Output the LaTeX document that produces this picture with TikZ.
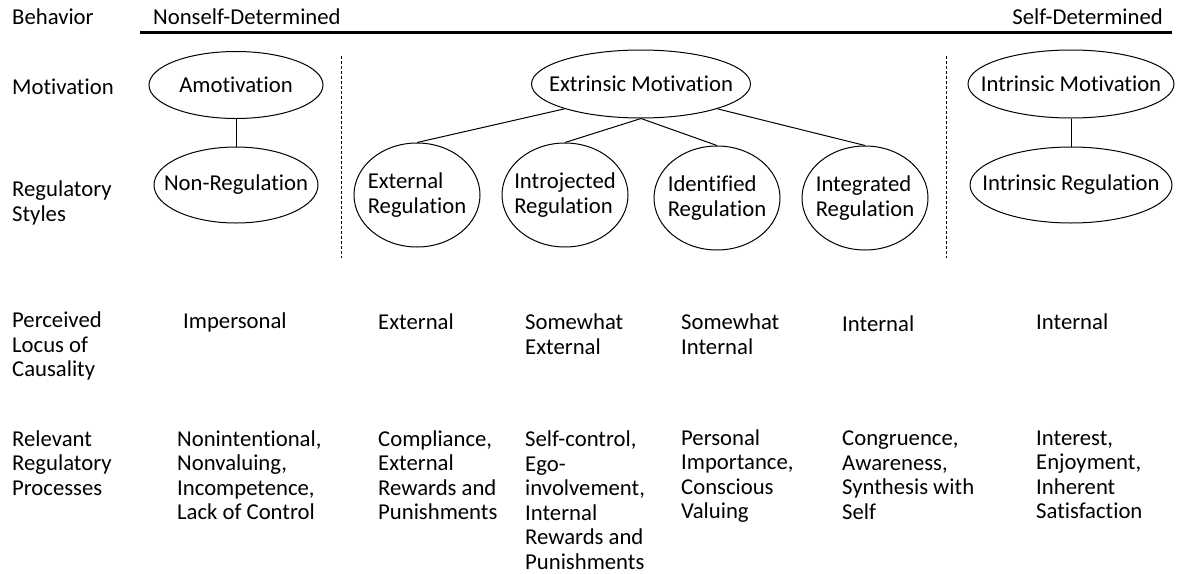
\documentclass[tikz,border=0pt]{standalone}
\usepackage{fontspec}
\setmainfont{Carlito}[Ligatures=NoCommon]
\usetikzlibrary{shapes.geometric}

\tikzset{
	oval/.style={draw, ellipse, line width=1pt, inner sep=0pt},
	txt/.style={anchor=west, align=left, inner sep=0pt},
	link/.style={line width=1pt}
}

\begin{document}
\begin{tikzpicture}[x=1pt, y=-1pt, font=\fontsize{22.7}{24.5}\selectfont]
	\useasboundingbox (0,0) rectangle (1180,573);

	\node[txt] (lblbeh) at (12,17) {Behavior};
	\node[txt] (nonself) at (153,17) {Nonself-Determined};
	\node[txt, anchor=east] (self) at (1163,17) {Self-Determined};
	\coordinate (barl) at (140,32);
	\coordinate (barr) at (1172,32);
	\draw [line width=3pt] (barl) -- (barr);

	\node[txt] (lblmot) at (12,87) {Motivation};
	\node[txt] (lblreg) at (12,203) {Regulatory\\Styles};
	\node[txt] (lblloc) at (12,346) {Perceived\\Locus of\\Causality};
	\node[txt] (lblproc) at (12,463) {Relevant\\Regulatory\\Processes};

	\coordinate (dashat) at (341,56);
	\coordinate (dashab) at (341,258);
	\coordinate (dashbt) at (946,56);
	\coordinate (dashbb) at (946,258);
	\draw [line width=1pt, dash pattern=on 3pt off 2pt] (dashat) -- (dashab);
	\draw [line width=1pt, dash pattern=on 3pt off 2pt] (dashbt) -- (dashbb);

	\node[oval, minimum width=174pt, minimum height=67pt, label=center:Amotivation] (amot) at (236,85) {};
	\node[oval, minimum width=164pt, minimum height=76pt, label=center:Non-Regulation] (nonreg) at (236,185) {};
	\draw [link] (amot.south) -- (nonreg.north);

	\node[oval, minimum width=219pt, minimum height=68pt, label=center:Extrinsic Motivation] (extm) at (641,84) {};
	\node[oval, minimum width=126pt, minimum height=104pt, label={[align=left]center:External\\Regulation}] (exreg) at (417,195) {};
	\node[oval, minimum width=126pt, minimum height=104pt, label={[align=left]center:Introjected\\Regulation}] (introreg) at (565,195) {};
	\node[oval, minimum width=126pt, minimum height=104pt, label={[align=left]center:Identified\\Regulation}] (identreg) at (717,198) {};
	\node[oval, minimum width=126pt, minimum height=104pt, label={[align=left]center:Integrated\\Regulation}] (integreg) at (865,198) {};
	\draw [link] (extm.198) -- (exreg.north);
	\draw [link] (extm.south) -- (introreg.north);
	\draw [link] (extm.south) -- (identreg.north);
	\draw [link] (extm.342) -- (integreg.north);

	\node[oval, minimum width=206pt, minimum height=68pt, label=center:Intrinsic Motivation] (intm) at (1071,84) {};
	\node[oval, minimum width=202pt, minimum height=76pt, label=center:Intrinsic Regulation] (intreg) at (1071,185) {};
	\draw [link] (intm.south) -- (intreg.north);

	\node[txt] (locimp) at (183,322) {Impersonal};
	\node[txt] (locext) at (378,322) {External};
	\node[txt] (locsext) at (525,334) {Somewhat\\External};
	\node[txt] (locsint) at (681,334) {Somewhat\\Internal};
	\node[txt] (locintg) at (842,324) {Internal};
	\node[txt] (locintr) at (1036,322) {Internal};

	\node[txt] (procamot) at (177,475) {Nonintentional,\\Nonvaluing,\\Incompetence,\\Lack of Control};
	\node[txt] (procext) at (378,475) {Compliance,\\External\\Rewards and\\Punishments};
	\node[txt] (procintro) at (525,500) {Self-control,\\Ego-\\involvement,\\Internal\\Rewards and\\Punishments};
	\node[txt] (procident) at (681,476) {Personal\\Importance,\\Conscious\\Valuing};
	\node[txt] (procinteg) at (842,475) {Congruence,\\Awareness,\\Synthesis with\\Self};
	\node[txt] (procintr) at (1036,475) {Interest,\\Enjoyment,\\Inherent\\Satisfaction};
\end{tikzpicture}
\end{document}
